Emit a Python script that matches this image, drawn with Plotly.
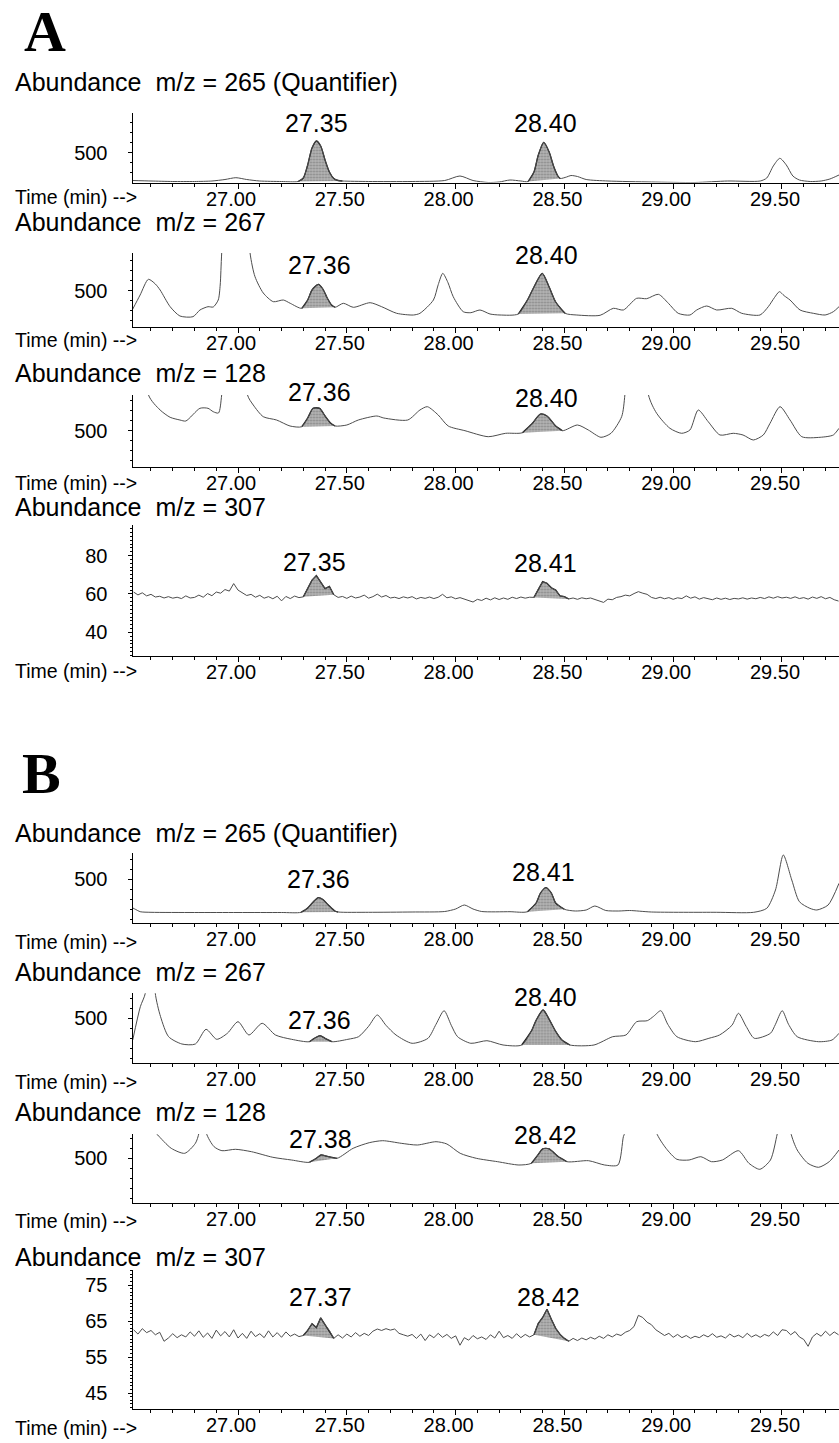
import numpy as np
import plotly.graph_objects as go

W, H = 839, 1443
FONT = "Liberation Sans, Arial, Helvetica, sans-serif"
SERIF = "Liberation Serif, Times New Roman, serif"

# ======================= DATA =======================
# common x axis ticks (retention time, min)
x_tickvals = [27.0, 27.5, 28.0, 28.5, 29.0, 29.5]
x_ticktext = ["27.00", "27.50", "28.00", "28.50", "29.00", "29.50"]

# ---- A : m/z 265 (Quantifier) ----
a265_t = [26.515, 26.60, 26.70, 26.80, 26.88, 26.94, 26.99, 27.04, 27.10, 27.20,
          27.276, 27.30, 27.32, 27.34, 27.36, 27.38, 27.40, 27.42, 27.44, 27.46,
          27.48, 27.60, 27.80, 27.95, 28.02, 28.08, 28.15, 28.20, 28.25, 28.30,
          28.333, 28.36, 28.38, 28.405, 28.43, 28.45, 28.47, 28.48, 28.51, 28.53,
          28.56, 28.60, 28.70, 28.90, 29.10, 29.25, 29.40, 29.43, 29.46, 29.49,
          29.52, 29.55, 29.58, 29.63, 29.68, 29.72, 29.762]
a265_y = [222, 217, 212, 212, 217, 232, 250, 232, 217, 212,
          212, 247, 377, 547, 617, 567, 427, 307, 242, 222,
          217, 212, 212, 222, 267, 222, 202, 207, 227, 217,
          212, 307, 477, 604, 507, 367, 267, 242, 257, 272,
          262, 232, 217, 207, 202, 217, 217, 247, 367, 444,
          377, 267, 227, 212, 217, 237, 277]
a265_peaks = [(27.276, 27.48), (28.333, 28.48)]
a265_labels = ["27.35", "28.40"]

# ---- A : m/z 267 ----
a267_t = [26.514, 26.55, 26.588, 26.62, 26.642, 26.688, 26.733, 26.793, 26.825, 26.862,
          26.886, 26.909, 26.918, 26.925, 26.99, 27.055, 27.078, 27.116, 27.162, 27.208,
          27.24, 27.293, 27.32, 27.34, 27.369, 27.39, 27.41, 27.43, 27.446, 27.484,
          27.53, 27.607, 27.66, 27.729, 27.806, 27.836, 27.898, 27.92, 27.941, 27.965,
          27.989, 28.035, 28.07, 28.112, 28.158, 28.204, 28.288, 28.33, 28.36, 28.398,
          28.43, 28.46, 28.503, 28.557, 28.664, 28.725, 28.771, 28.832, 28.878, 28.932,
          28.978, 29.023, 29.077, 29.108, 29.154, 29.2, 29.269, 29.315, 29.399, 29.437,
          29.465, 29.488, 29.51, 29.537, 29.583, 29.644, 29.698, 29.736, 29.762]
a267_y = [307, 457, 614, 567, 507, 340, 247, 240, 307, 340,
          337, 407, 557, 880, 3000, 880, 640, 477, 390, 407,
          374, 324, 407, 507, 564, 517, 427, 357, 334, 374,
          334, 380, 340, 274, 257, 274, 407, 560, 674, 580,
          440, 290, 280, 307, 267, 257, 267, 407, 537, 674,
          537, 387, 274, 257, 254, 324, 307, 424, 420, 464,
          374, 274, 257, 307, 347, 307, 324, 274, 257, 340,
          430, 490, 450, 407, 307, 274, 257, 290, 340]
a267_peaks = [(27.293, 27.446), (28.288, 28.503)]
a267_labels = ["27.36", "28.40"]

# ---- A : m/z 128 ----
a128_t = [26.55, 26.588, 26.642, 26.688, 26.733, 26.76, 26.825, 26.862, 26.886, 26.91,
          26.925, 26.99, 27.043, 27.07, 27.116, 27.177, 27.239, 27.293, 27.32, 27.345,
          27.375, 27.40, 27.425, 27.446, 27.50, 27.553, 27.638, 27.67, 27.78, 27.836,
          27.87, 27.92, 27.966, 28.043, 28.15, 28.23, 28.307, 28.35, 28.39, 28.42,
          28.46, 28.491, 28.56, 28.61, 28.668, 28.714, 28.763, 28.778, 28.83, 28.886,
          28.924, 28.985, 29.039, 29.077, 29.115, 29.161, 29.215, 29.276, 29.321, 29.368,
          29.414, 29.445, 29.491, 29.537, 29.591, 29.675, 29.736, 29.762]
a128_y = [3000, 860, 707, 634, 607, 597, 724, 724, 690, 677,
          860, 3000, 860, 757, 640, 607, 547, 540, 627, 724,
          724, 647, 577, 547, 557, 607, 647, 627, 607, 707,
          740, 657, 547, 500, 440, 474, 480, 567, 667, 647,
          547, 500, 557, 507, 434, 474, 640, 860, 3000, 860,
          674, 524, 474, 507, 707, 590, 457, 474, 457, 407,
          457, 574, 740, 607, 440, 434, 457, 524]
a128_peaks = [(27.293, 27.446), (28.307, 28.491)]
a128_labels = ["27.36", "28.40"]

# scan times of the m/z 307 traces (min)
scan_t = np.round(np.arange(26.52, 29.7601, 0.02), 2)

# ---- A : m/z 307 ----
a307_y = [61.0, 59.5, 60.6, 59.0, 59.8, 58.4, 58.8, 57.9, 58.6, 57.8,
          58.3, 57.6, 59.0, 57.9, 58.2, 59.4, 58.3, 60.2, 59.1, 61.0,
          60.4, 62.3, 61.5, 65.4, 62.0, 60.5, 59.2, 59.8, 58.3, 59.3,
          57.8, 58.6, 57.5, 58.8, 56.4, 58.7, 57.6, 58.9, 58.1, 58.5,
          62.5, 67.2, 69.6, 66.0, 62.8, 63.9, 59.6, 58.2, 58.7, 57.7,
          58.9, 57.9, 58.4, 59.4, 57.8, 58.6, 59.9, 58.4, 59.2, 57.9,
          58.3, 57.6, 58.5, 57.9, 58.6, 57.4, 58.2, 57.7, 58.4, 57.6,
          58.3, 59.8, 58.0, 58.5, 57.5, 58.1, 57.3, 56.5, 55.8, 57.2,
          56.6, 57.8, 56.9, 58.0, 57.1, 57.9, 57.2, 58.3, 57.6, 58.4,
          57.8, 58.3, 58.2, 62.5, 66.4, 65.6, 63.2, 62.0, 59.0, 58.6,
          57.4, 57.9, 57.2, 58.0, 57.5, 57.9, 57.0, 56.2, 55.6, 57.3,
          57.0, 58.2, 58.6, 59.4, 59.0, 60.2, 61.2, 60.4, 59.8, 58.2,
          57.6, 58.3, 57.5, 58.1, 57.2, 58.0, 57.6, 59.0, 57.8, 58.5,
          57.3, 58.1, 57.6, 57.0, 57.9, 57.2, 57.8, 57.1, 57.7, 57.4,
          58.0, 57.3, 57.9, 57.5, 58.2, 57.6, 58.5, 57.8, 58.6, 57.9,
          58.3, 57.7, 58.5, 57.6, 58.1, 57.3, 58.4, 57.7, 58.6, 57.5,
          58.2, 57.0, 56.3]
a307_peaks = [(27.30, 27.44), (28.36, 28.52)]
a307_labels = ["27.35", "28.41"]

# ---- B : m/z 265 (Quantifier) ----
b265_t = [26.514, 26.53, 26.55, 26.60, 26.80, 27.00, 27.20, 27.29, 27.32, 27.345,
          27.369, 27.39, 27.415, 27.445, 27.46, 27.60, 27.80, 27.95, 28.00, 28.04,
          28.08, 28.12, 28.25, 28.33, 28.37, 28.39, 28.415, 28.44, 28.46, 28.50,
          28.55, 28.60, 28.64, 28.69, 28.75, 28.80, 28.90, 29.20, 29.37, 29.43,
          29.47, 29.506, 29.545, 29.58, 29.628, 29.66, 29.712, 29.762]
b265_y = [216, 198, 176, 170, 168, 168, 168, 170, 213, 273,
          316, 298, 243, 183, 173, 170, 173, 178, 203, 243,
          203, 178, 176, 176, 263, 363, 416, 363, 263, 200,
          183, 193, 233, 188, 183, 188, 173, 170, 170, 210,
          393, 743, 493, 276, 210, 193, 243, 460]
b265_peaks = [(27.29, 27.46), (28.33, 28.50)]
b265_labels = ["27.36", "28.41"]

# ---- B : m/z 267 ----
b267_t = [26.516, 26.551, 26.575, 26.60, 26.619, 26.644, 26.681, 26.742, 26.804, 26.853,
          26.902, 26.951, 27.0, 27.05, 27.111, 27.172, 27.246, 27.328, 27.355, 27.377,
          27.40, 27.431, 27.505, 27.554, 27.60, 27.64, 27.68, 27.726, 27.80, 27.873,
          27.91, 27.947, 27.98, 28.009, 28.07, 28.144, 28.218, 28.304, 28.35, 28.37,
          28.402, 28.43, 28.46, 28.49, 28.525, 28.636, 28.722, 28.783, 28.832, 28.881,
          28.91, 28.943, 28.975, 29.017, 29.103, 29.164, 29.213, 29.27, 29.30, 29.335,
          29.373, 29.447, 29.47, 29.501, 29.53, 29.57, 29.668, 29.73, 29.762]
b267_y = [283, 616, 760, 2500, 760, 516, 316, 243, 243, 390,
          290, 350, 466, 333, 450, 333, 290, 266, 305, 326,
          300, 266, 290, 316, 420, 533, 430, 333, 250, 300,
          440, 576, 430, 316, 250, 276, 233, 233, 380, 480,
          583, 490, 370, 280, 233, 233, 316, 333, 466, 476,
          520, 576, 440, 316, 266, 300, 333, 430, 550, 420,
          300, 350, 440, 576, 440, 316, 266, 283, 350]
b267_peaks = [(27.328, 27.431), (28.304, 28.525)]
b267_labels = ["27.36", "28.40"]

# ---- B : m/z 128 ----
b128_t = [26.516, 26.60, 26.62, 26.631, 26.693, 26.755, 26.804, 26.821, 26.837, 26.853,
          26.89, 26.926, 26.988, 27.062, 27.16, 27.246, 27.328, 27.36, 27.381, 27.41,
          27.455, 27.529, 27.603, 27.665, 27.75, 27.824, 27.91, 27.96, 28.021, 28.095,
          28.193, 28.291, 28.348, 28.38, 28.40, 28.43, 28.47, 28.512, 28.611, 28.685,
          28.746, 28.771, 28.779, 28.85, 28.922, 28.967, 29.017, 29.073, 29.127, 29.176,
          29.226, 29.30, 29.348, 29.398, 29.447, 29.477, 29.48, 29.51, 29.54, 29.57,
          29.619, 29.668, 29.717, 29.762]
b128_y = [1500, 1500, 760, 733, 600, 550, 650, 760, 1500, 760,
          616, 576, 590, 566, 510, 483, 460, 500, 533, 520,
          500, 600, 656, 676, 650, 633, 666, 643, 550, 500,
          466, 433, 450, 540, 595, 595, 520, 466, 476, 433,
          433, 716, 760, 1500, 760, 600, 490, 483, 516, 466,
          483, 576, 450, 390, 483, 733, 760, 1500, 760, 583,
          450, 410, 466, 583]
b128_peaks = [(27.328, 27.455), (28.348, 28.512)]
b128_labels = ["27.38", "28.42"]

# ---- B : m/z 307 ----
b307_y = [62.6, 61.4, 62.9, 61.8, 62.4, 61.2, 61.9, 59.4, 60.3, 61.5,
          60.4, 61.2, 60.6, 62.0, 60.8, 62.3, 60.5, 61.7, 60.2, 62.5,
          60.9, 62.1, 60.6, 62.6, 60.3, 61.6, 60.2, 62.2, 60.7, 61.5,
          60.4, 62.3, 60.6, 61.8, 60.5, 62.0, 60.8, 61.4, 60.7, 61.0,
          62.4, 64.3, 63.2, 65.9, 64.0, 62.4, 60.2, 61.2, 60.3, 61.4,
          60.6, 61.8, 60.8, 61.6, 61.0, 62.2, 62.8, 62.4, 62.9, 62.5,
          62.8, 61.6, 61.2, 60.8, 61.3, 60.2, 61.4, 59.6, 61.2, 60.4,
          61.6, 60.5, 61.3, 60.2, 60.9, 58.3, 60.4, 59.7, 61.0, 60.1,
          60.6, 59.9, 61.2, 60.3, 62.2, 60.4, 61.0, 60.2, 61.5, 60.4,
          61.3, 60.6, 61.2, 64.4, 66.0, 68.3, 65.5, 63.0, 61.3, 60.2,
          59.4, 60.2, 59.6, 60.3, 59.8, 60.5, 60.0, 60.8, 60.2, 61.2,
          60.6, 61.4, 61.0, 61.9, 62.4, 63.5, 66.6, 66.0, 64.7, 64.0,
          62.6, 61.8, 61.0, 61.6, 60.5, 61.3, 60.4, 61.0, 60.2, 60.8,
          60.4, 61.2, 60.6, 61.5, 60.5, 60.9, 60.3, 61.4, 60.6, 61.1,
          60.4, 61.6, 60.6, 61.2, 60.5, 61.3, 60.8, 62.0, 61.0, 62.6,
          62.4, 61.2, 62.1, 60.6, 59.9, 58.0, 60.6, 61.6, 60.8, 62.2,
          61.0, 62.0, 61.2]
b307_peaks = [(27.30, 27.44), (28.36, 28.52)]
b307_labels = ["27.37", "28.42"]

# ======================= LAYOUT (pixel geometry) =======================
X_LEFT = 132.5  # y-axis position, px
panels = [
    dict(t=a265_t, v=a265_y, peaks=a265_peaks, labels=a265_labels, title="Abundance\u00a0\u00a0m/z = 265 (Quantifier)",
         bottom=182.5, top=113, yr=[202, 897], yt=[500], ymin=100, smooth=True,
         title_y=81.7, time_y=196.7, lab=[(27.362, 123), (28.411, 123.3)]),
    dict(t=a267_t, v=a267_y, peaks=a267_peaks, labels=a267_labels, title="Abundance\u00a0\u00a0m/z = 267",
         bottom=327, top=253, yr=[137, 877], yt=[500], ymin=100, smooth=True,
         title_y=222, time_y=340, lab=[(27.376, 265), (28.418, 255)]),
    dict(t=a128_t, v=a128_y, peaks=a128_peaks, labels=a128_labels, title="Abundance\u00a0\u00a0m/z = 128",
         bottom=466.7, top=395, yr=[140, 857], yt=[500], ymin=100, smooth=True,
         title_y=373, time_y=483.3, lab=[(27.376, 391.7), (28.418, 398.3)]),
    dict(t=scan_t, v=a307_y, peaks=a307_peaks, labels=a307_labels, title="Abundance\u00a0\u00a0m/z = 307",
         bottom=656, top=525, yr=[27.7, 95.9], yt=[40, 60, 80], ymin=2, smooth=False,
         title_y=506.7, time_y=671, lab=[(27.353, 561.7), (28.411, 563.3)]),
    dict(t=b265_t, v=b265_y, peaks=b265_peaks, labels=b265_labels, title="Abundance\u00a0\u00a0m/z = 265 (Quantifier)",
         bottom=922.7, top=853, yr=[66, 763], yt=[500], ymin=100, smooth=True,
         title_y=833.3, time_y=941.7, lab=[(27.369, 879.3), (28.403, 871.7)]),
    dict(t=b267_t, v=b267_y, peaks=b267_peaks, labels=b267_labels, title="Abundance\u00a0\u00a0m/z = 267",
         bottom=1062.7, top=993.3, yr=[56, 750], yt=[500], ymin=100, smooth=True,
         title_y=972.3, time_y=1081.7, lab=[(27.376, 1020), (28.414, 997.3)]),
    dict(t=b128_t, v=b128_y, peaks=b128_peaks, labels=b128_labels, title="Abundance\u00a0\u00a0m/z = 128",
         bottom=1203.3, top=1134, yr=[50, 743], yt=[500], ymin=100, smooth=True,
         title_y=1111.7, time_y=1221, lab=[(27.381, 1139.3), (28.414, 1135)]),
    dict(t=scan_t, v=b307_y, peaks=b307_peaks, labels=b307_labels, title="Abundance\u00a0\u00a0m/z = 307",
         bottom=1409.3, top=1270, yr=[40.5, 79.2], yt=[45, 55, 65, 75], ymin=1, smooth=False,
         title_y=1256.7, time_y=1428, lab=[(27.381, 1296.7), (28.427, 1296.7)]),
]


def py(y):
    return 1 - y / H


fig = go.Figure()
annotations = []
layout_axes = {}

for i, p in enumerate(panels, start=1):
    xa = "x" if i == 1 else f"x{i}"
    ya = "y" if i == 1 else f"y{i}"
    t = np.asarray(p["t"], dtype=float)
    v = np.asarray(p["v"], dtype=float)
    shape = "spline" if p["smooth"] else "linear"
    # shaded integrated peaks
    for (ts, te) in p["peaks"]:
        m = (t >= ts - 1e-6) & (t <= te + 1e-6)
        fig.add_trace(go.Scatter(
            x=t[m], y=v[m], xaxis=xa, yaxis=ya, mode="lines", fill="toself",
            fillcolor="#a6a6a6",
            fillpattern=dict(shape=".", fgcolor="#5a5a5a", bgcolor="#b4b4b4", size=3, solidity=0.35),
            line=dict(color="#1e1e1e", width=1.3, shape=shape, smoothing=0.7),
            hoverinfo="skip", showlegend=False))
    fig.add_trace(go.Scatter(
        x=t, y=v, xaxis=xa, yaxis=ya, mode="lines",
        line=dict(color="#4d4d4d", width=1, shape=shape, smoothing=0.7),
        hoverinfo="skip", showlegend=False))

    layout_axes["xaxis" if i == 1 else f"xaxis{i}"] = dict(
        domain=[X_LEFT / W, 1], range=[26.515, 29.762], anchor=ya,
        showline=True, linecolor="black", linewidth=1, mirror=False,
        ticks="outside", ticklen=5, tickwidth=1, tickcolor="black",
        tickmode="array", tickvals=x_tickvals, ticktext=x_ticktext,
        tickfont=dict(family=FONT, size=20, color="black"),
        ticklabelshift=-7, ticklabelstandoff=-7,
        minor=dict(ticks="outside", ticklen=3, tickcolor="black", dtick=0.1, tick0=27.0, showgrid=False),
        showgrid=False, zeroline=False, fixedrange=True)
    layout_axes["yaxis" if i == 1 else f"yaxis{i}"] = dict(
        domain=[py(p["bottom"]), py(p["top"])], range=p["yr"], anchor=xa,
        showline=True, linecolor="black", linewidth=1,
        ticks="outside", ticklen=4, tickwidth=1, tickcolor="black",
        tickmode="array", tickvals=p["yt"], ticktext=[str(k) for k in p["yt"]],
        tickfont=dict(family=FONT, size=20, color="black"),
        ticklabelstandoff=16,
        minor=dict(ticks="outside", ticklen=2, tickcolor="black", dtick=p["ymin"], tick0=0, showgrid=False),
        showgrid=False, zeroline=False, fixedrange=True)

    annotations.append(dict(text=p["title"], x=13.3 / W, y=py(p["title_y"]), xref="paper", yref="paper",
                            xanchor="left", yanchor="middle", showarrow=False,
                            font=dict(family=FONT, size=25, color="black")))
    annotations.append(dict(text="Time (min) --&gt;", x=13.3 / W, y=py(p["time_y"]), xref="paper", yref="paper",
                            xanchor="left", yanchor="middle", showarrow=False,
                            font=dict(family=FONT, size=19.5, color="black")))
    for (lt, ly), txt in zip(p["lab"], p["labels"]):
        annotations.append(dict(text=txt, x=lt, y=py(ly), xref=xa, yref="paper",
                                xanchor="center", yanchor="middle", showarrow=False,
                                font=dict(family=FONT, size=25, color="black")))

annotations.append(dict(text="<b>A</b>", x=21.7 / W, y=py(31), xref="paper", yref="paper",
                        xanchor="left", yanchor="middle", showarrow=False,
                        font=dict(family=SERIF, size=58, color="black")))
annotations.append(dict(text="<b>B</b>", x=20 / W, y=py(773), xref="paper", yref="paper",
                        xanchor="left", yanchor="middle", showarrow=False,
                        font=dict(family=SERIF, size=58, color="black")))

fig.update_layout(
    width=W, height=H, margin=dict(l=0, r=0, t=0, b=0),
    paper_bgcolor="white", plot_bgcolor="white", showlegend=False,
    annotations=annotations, **layout_axes)

fig.write_html("out.html", config={"displayModeBar": False, "staticPlot": True},
               post_script="document.body.style.margin='0px';document.body.style.overflow='hidden';")
